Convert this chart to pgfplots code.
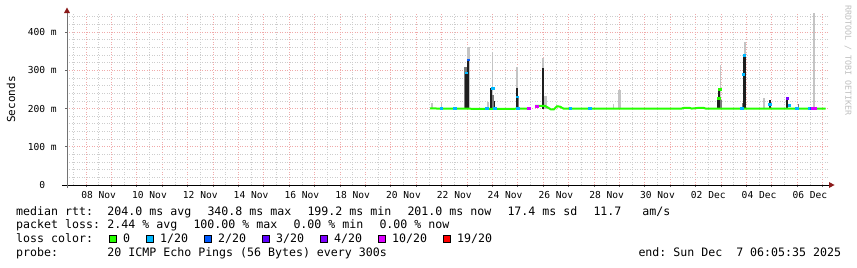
\documentclass[border=0pt]{standalone}
\usepackage{pgfplots}
\pgfplotsset{compat=1.18}
\usepackage{fontspec}
\newfontfamily\dvmono{DejaVu Sans Mono}
\definecolor{lzero}{HTML}{26FF00}
\definecolor{lone}{HTML}{00B8FF}
\definecolor{ltwo}{HTML}{0059FF}
\definecolor{lthree}{HTML}{5E00FF}
\definecolor{lfour}{HTML}{7E00FF}
\definecolor{lten}{HTML}{DD00FF}
\definecolor{lnineteen}{HTML}{FF0000}
\definecolor{smokeL}{HTML}{C4C4C4}
\definecolor{smokeM}{HTML}{7A7A7A}
\definecolor{smokeD}{HTML}{1E1E1E}
\definecolor{arrowred}{HTML}{8B1A1A}
\definecolor{mgrid}{RGB}{240,170,170}
\definecolor{ngrid}{RGB}{205,205,205}
\newcommand\legfont{\dvmono\fontsize{11.6bp}{14bp}\selectfont}
\newcommand\tickfont{\dvmono\fontsize{9.6bp}{11bp}\selectfont}
\newcommand\labfont{\dvmono\fontsize{11bp}{13bp}\selectfont}
\newcommand\rrdfont{\dvmono\fontsize{8.3bp}{10bp}\selectfont}

\pgfplotstableread{
x y
21.55 200.5
21.90 200
22.40 199.5
22.90 200
23.40 199
23.90 199.5
24.40 199
24.90 199.5
25.20 199.5
25.47 199.5
25.55 nan
25.68 207
26.07 207
26.20 202
26.30 198
26.42 198
26.55 206
26.66 205
26.80 200
27.40 200
28.00 199.5
28.60 200
29.20 199.5
29.80 200
30.40 199.5
31.00 200
31.45 200
31.55 202
31.75 202
31.85 200
32.15 202
32.30 202
32.40 200
33.00 200
33.60 199.5
34.20 200
34.80 199.5
35.40 200
36.00 200
36.60 199.5
37.12 200
}\median

\begin{document}
\frenchspacing
\begin{tikzpicture}[x=1bp,y=1bp]
\useasboundingbox (-67,-82) rectangle (790,185);
\begin{axis}[
  at={(0,0)}, anchor=south west, scale only axis,
  width=762bp, height=172bp,
  xmin=7.2535, xmax=37.2535, ymin=0, ymax=450,
  axis x line=bottom, axis y line=left, axis line style={-},
  x axis line style={black, line width=0.9bp},
  y axis line style={black!55, line width=0.9bp},
  xtick={8,9,...,37}, xticklabels={},
  minor xtick={7.5,8.5,...,36.5},
  ytick={0,100,200,300,400},
  yticklabels={0~\phantom{m},100~m,200~m,300~m,400~m},
  minor ytick={20,40,...,440},
  grid=both,
  major grid style={draw=mgrid, dash pattern=on 1bp off 1.5bp, line width=0.7bp},
  minor grid style={draw=ngrid, dash pattern=on 1bp off 1.5bp, line width=0.7bp},
  tick align=outside, major tick length=2bp, minor tick length=0bp,
  tick style={black!60, line width=0.6bp},
  every tick label/.append style={font=\tickfont, text=black},
  yticklabel style={xshift=-4.8bp},
  extra x ticks={8.5,10.5,...,36.5},
  extra x tick labels={08 Nov,10 Nov,12 Nov,14 Nov,16 Nov,18 Nov,20 Nov,22 Nov,24 Nov,26 Nov,28 Nov,30 Nov,02 Dec,04 Dec,06 Dec},
  extra x tick style={grid=none, major tick length=0bp, xticklabel style={yshift=-3.3bp}},
  unbounded coords=jump,
  clip=true,
]
% small smoke
\addplot[fill=smokeL, draw=none] coordinates {(21.60,200) (21.60,215) (21.65,215) (21.65,200)};
\addplot[fill=smokeL, draw=none] coordinates {(21.98,200) (21.98,215) (22.03,215) (22.03,200)};
\addplot[fill=smokeL, draw=none] coordinates {(23.80,200) (23.80,216) (23.86,216) (23.86,200)};
\addplot[fill=smokeL, draw=none] coordinates {(28.73,200) (28.73,213) (28.78,213) (28.78,200)};
\addplot[fill=smokeL, draw=none] coordinates {(28.95,200) (28.95,248) (29.05,248) (29.05,200)};
\addplot[fill=smokeL, draw=none] coordinates {(34.66,200) (34.66,227) (34.72,227) (34.72,200)};
\addplot[fill=smokeM, draw=none] coordinates {(36.03,200) (36.03,212) (36.08,212) (36.08,200)};
% spike A
\addplot[fill=smokeL, draw=none] coordinates {(23.00,200) (23.00,362) (23.10,362) (23.10,200)};
\addplot[fill=smokeM, draw=none] coordinates {(22.90,200) (22.90,310) (23.00,310) (23.00,200)};
\addplot[fill=smokeD, draw=none] coordinates {(22.91,200) (22.91,294) (22.99,294) (22.99,200)};
\addplot[fill=smokeD, draw=none] coordinates {(22.99,200) (22.99,330) (23.08,330) (23.08,200)};
% spike B
\addplot[fill=smokeL, draw=none] coordinates {(23.97,200) (23.97,349) (24.03,349) (24.03,200)};
\addplot[fill=smokeD, draw=none] coordinates {(23.91,200) (23.91,253) (24.00,253) (24.00,200)};
\addplot[fill=smokeM, draw=none] coordinates {(24.00,200) (24.00,235) (24.05,235) (24.05,200)};
\addplot[fill=smokeD, draw=none] coordinates {(24.06,200) (24.06,220) (24.11,220) (24.11,200)};
% spike C
\addplot[fill=smokeL, draw=none] coordinates {(24.95,200) (24.95,309) (25.01,309) (25.01,200)};
\addplot[fill=smokeD, draw=none] coordinates {(24.92,200) (24.92,253) (25.00,253) (25.00,200)};
\addplot[fill=smokeM, draw=none] coordinates {(25.00,200) (25.00,232) (25.04,232) (25.04,200)};
% spike D
\addplot[fill=smokeL, draw=none] coordinates {(25.97,200) (25.97,331) (26.03,331) (26.03,200)};
\addplot[fill=smokeD, draw=none] coordinates {(25.94,200) (25.94,305) (26.02,305) (26.02,200)};
\addplot[fill=smokeL, draw=none] coordinates {(26.02,200) (26.02,232) (26.16,232) (26.16,200)};
% spike E
\addplot[fill=smokeL, draw=none] coordinates {(32.95,200) (32.95,314) (33.01,314) (33.01,200)};
\addplot[fill=smokeD, draw=none] coordinates {(32.83,200) (32.83,231) (32.90,231) (32.90,200)};
\addplot[fill=smokeD, draw=none] coordinates {(32.90,200) (32.90,253) (32.97,253) (32.97,200)};
\addplot[fill=smokeM, draw=none] coordinates {(32.97,200) (32.97,222) (33.04,222) (33.04,200)};
% spike F
\addplot[fill=smokeL, draw=none] coordinates {(33.92,200) (33.92,375) (33.98,375) (33.98,200)};
\addplot[fill=smokeD, draw=none] coordinates {(33.87,200) (33.87,344) (33.97,344) (33.97,200)};
\addplot[fill=smokeM, draw=none] coordinates {(33.84,200) (33.84,215) (33.87,215) (33.87,200)};
% spikes H I K
\addplot[fill=smokeD, draw=none] coordinates {(34.90,200) (34.90,222) (34.96,222) (34.96,200)};
\addplot[fill=smokeD, draw=none] coordinates {(35.56,200) (35.56,227) (35.63,227) (35.63,200)};
\addplot[fill=smokeL, draw=none] coordinates {(36.62,205) (36.62,450) (36.71,450) (36.71,205)};
% median
\addplot[lzero, line width=2bp, no marks] table[x=x,y=y] {\median};
% loss colour marks
\addplot[only marks, mark=square*, mark size=0.9bp, lzero, every mark/.append style={xscale=1.5}] coordinates {(32.94,250) (32.92,227)};
\addplot[only marks, mark=square*, mark size=0.9bp, lone, every mark/.append style={xscale=1.5}] coordinates {(21.99,200) (22.53,200) (22.97,294) (23.78,200) (24.00,253) (24.08,200) (24.98,231) (25.01,201) (27.06,200) (27.84,200) (33.81,200) (33.88,290) (33.92,340) (34.93,212) (35.69,209) (35.98,200) (36.50,200)};
\addplot[only marks, mark=square*, mark size=0.9bp, ltwo, every mark/.append style={xscale=1.5}] coordinates {(23.05,328) (36.56,200)};
\addplot[only marks, mark=square*, mark size=0.9bp, lfour, every mark/.append style={xscale=1.5}] coordinates {(35.61,227)};
\addplot[only marks, mark=square*, mark size=0.9bp, lten, every mark/.append style={xscale=1.5}] coordinates {(25.43,200) (25.74,207) (36.62,200) (36.68,200)};
\end{axis}
% axis extensions and arrows
\draw[black, line width=0.9bp] (-5,0) -- (0,0);
\draw[black!55, line width=0.9bp] (0,-3) -- (0,0);
\draw[black!55, line width=0.9bp] (0,172) -- (0,174);
\fill[arrowred] (762,-3) -- (767.5,0) -- (762,3) -- cycle;
\fill[arrowred] (-3,172) -- (0,177.5) -- (3,172) -- cycle;
% axis title and watermark
\node[rotate=90, font=\labfont, inner sep=0] at (-56,85.5) {Seconds};
\node[rotate=-90, anchor=west, font=\rrdfont, text=black!25, inner sep=0] at (781,180) {RRDTOOL / TOBI OETIKER};
% legend
\begin{scope}[every node/.style={anchor=base west, inner sep=0, font=\legfont}]
\node at (-51,-30) {median rtt:};
\node at (40.3,-30) {204.0 ms avg};
\node at (140.3,-30) {340.8 ms max};
\node at (240.3,-30) {199.2 ms min};
\node at (340.3,-30) {201.0 ms now};
\node at (440.3,-30) {17.4 ms sd};
\node at (526.3,-30) {11.7~~~am/s};
\node at (-51,-43.7) {packet loss:};
\node at (40.3,-43.7) {2.44 \% avg};
\node at (126.3,-43.7) {100.00 \% max};
\node at (226.3,-43.7) {0.00 \% min};
\node at (312.3,-43.7) {0.00 \% now};
\node at (-51,-57.4) {loss color:};
\node at (56,-57.4) {0};
\node at (93,-57.4) {1/20};
\node at (151,-57.4) {2/20};
\node at (209,-57.4) {3/20};
\node at (267,-57.4) {4/20};
\node at (325,-57.4) {10/20};
\node at (390,-57.4) {19/20};
\node at (-51,-71.1) {probe:};
\node at (40.3,-71.1) {20 ICMP Echo Pings (56 Bytes) every 300s};
\node at (571.3,-71.1) {end: Sun Dec~~7 06:05:35 2025};
\end{scope}
\begin{scope}[line width=0.8bp]
\filldraw[fill=lzero, draw=black] (42,-57.5) rectangle (49.5,-50);
\filldraw[fill=lone, draw=black] (79,-57.5) rectangle (86.5,-50);
\filldraw[fill=ltwo, draw=black] (137,-57.5) rectangle (144.5,-50);
\filldraw[fill=lthree, draw=black] (195,-57.5) rectangle (202.5,-50);
\filldraw[fill=lfour, draw=black] (253,-57.5) rectangle (260.5,-50);
\filldraw[fill=lten, draw=black] (311,-57.5) rectangle (318.5,-50);
\filldraw[fill=lnineteen, draw=black] (376,-57.5) rectangle (383.5,-50);
\end{scope}
\end{tikzpicture}
\end{document}
